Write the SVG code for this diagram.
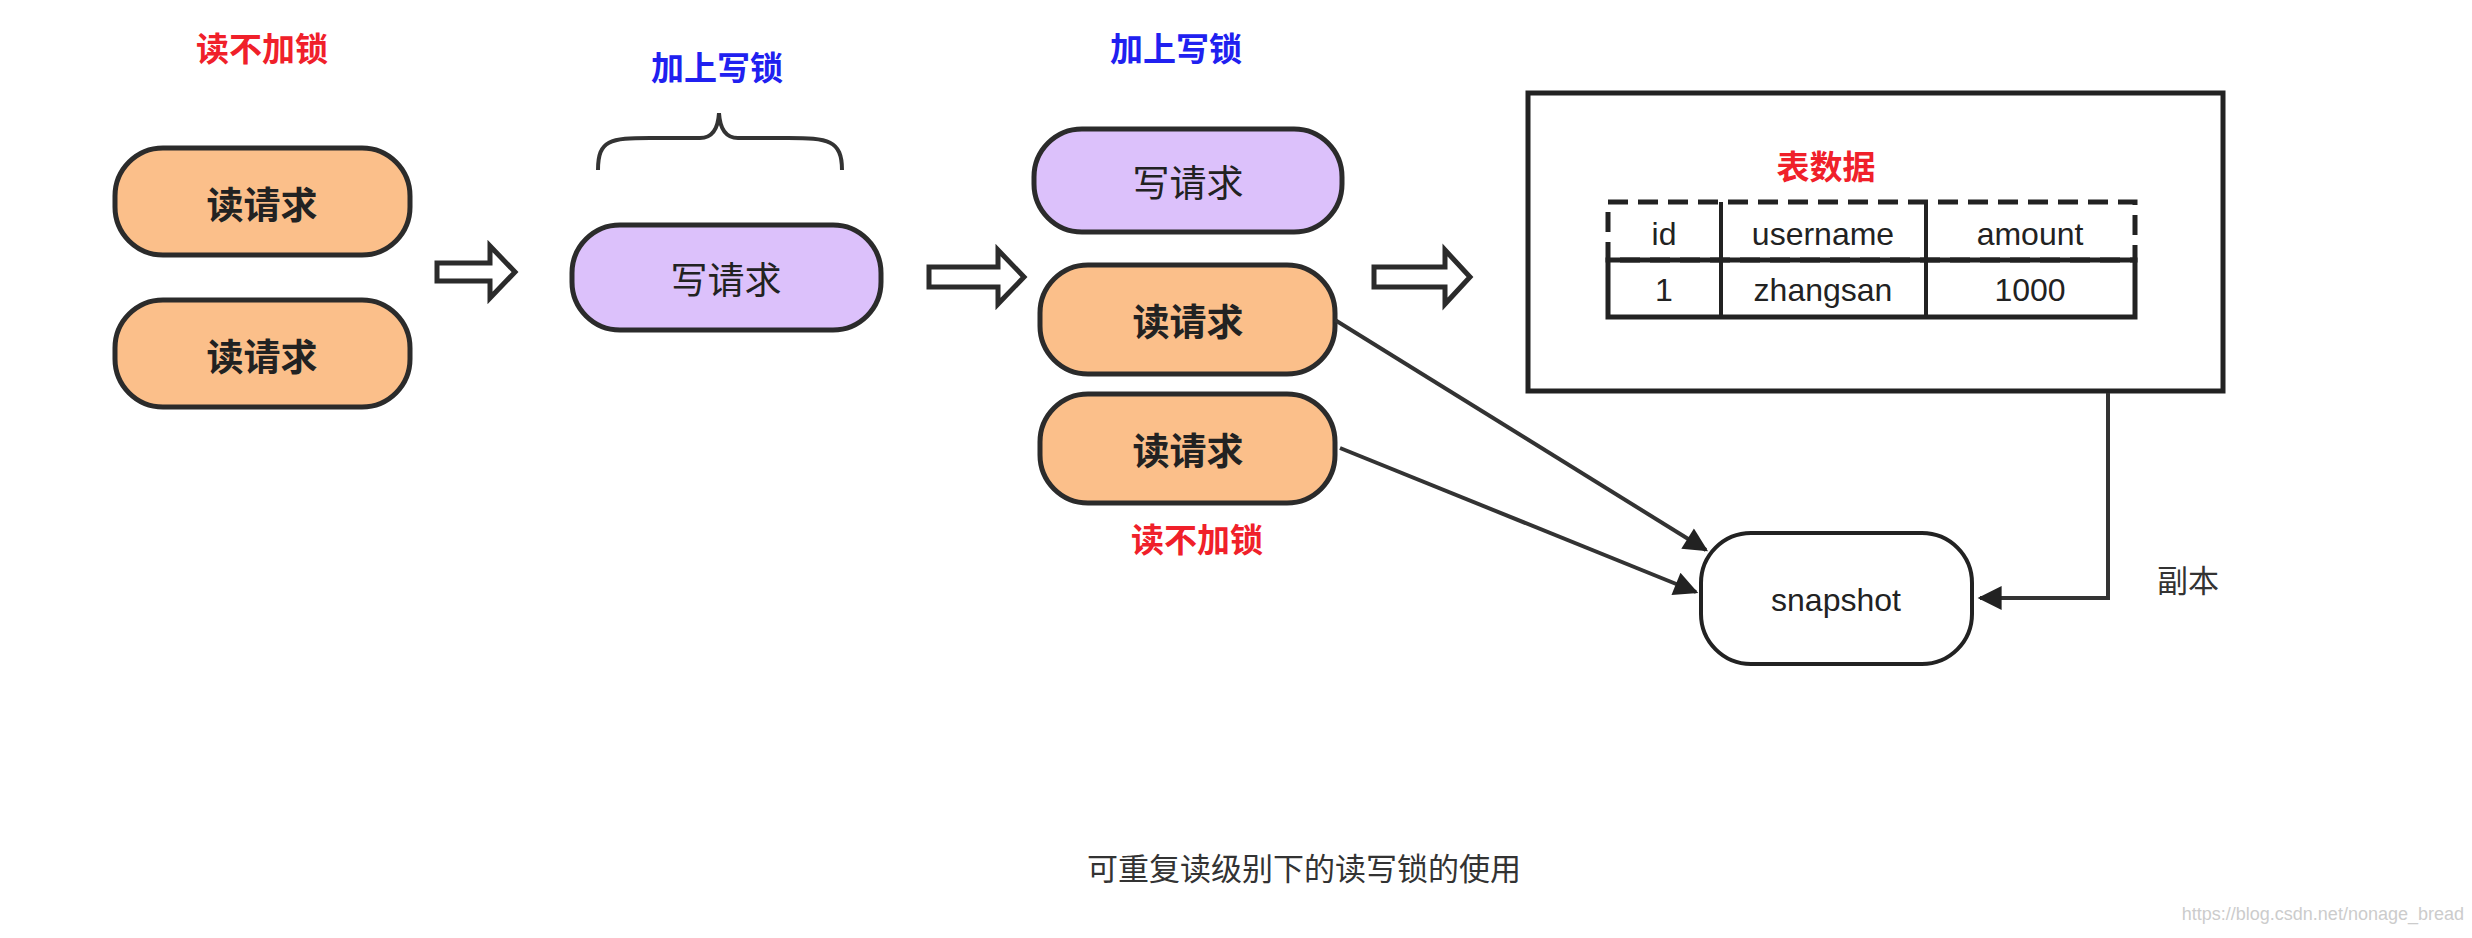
<svg xmlns="http://www.w3.org/2000/svg" width="2472" height="938" viewBox="0 0 2472 938">
<style>
text{font-family:"Noto Sans CJK SC","Liberation Sans",sans-serif;text-anchor:middle;dominant-baseline:central}
.rd{fill:#fbbf8a;stroke:#2b2b2b;stroke-width:5}
.wr{fill:#dcc1fb;stroke:#2b2b2b;stroke-width:5}
.nt{font-size:37px;font-weight:bold;fill:#222}
.red{font-size:33px;font-weight:bold;fill:#f0202a}
.blue{font-size:33px;font-weight:bold;fill:#2020f0}
.hol{fill:#fff;stroke:#2b2b2b;stroke-width:5;stroke-linejoin:miter}
.ln{stroke:#333;stroke-width:4;fill:none}
.tt{font-family:"Liberation Sans",sans-serif;font-size:32px;fill:#222}
</style>
<defs><marker id="ah" viewBox="0 0 10 10" refX="9" refY="5" markerWidth="7" markerHeight="6" orient="auto"><path d="M0,0L10,5L0,10z" fill="#222"/></marker></defs>
<text class="red" x="262" y="47">读不加锁</text>
<g id="r1"><rect class="rd" x="115" y="148" width="295" height="107" rx="48"/><text class="nt" x="262" y="203">读请求</text></g>
<g id="r2"><rect class="rd" x="115" y="300" width="295" height="107" rx="48"/><text class="nt" x="262" y="355">读请求</text></g>
<text class="blue" x="717" y="66">加上写锁</text>
<path d="M598,170 C598,140 610,138 650,138 L700,138 C712,138 718,130 719,113 C720,130 726,138 738,138 L788,138 C828,138 842,140 842,170" class="ln"/>
<g id="w1"><rect class="wr" x="572" y="225" width="309" height="105" rx="48"/><text class="nt" x="726" y="278" style="font-weight:normal">写请求</text></g>
<text class="blue" x="1176" y="47">加上写锁</text>
<g id="w2"><rect class="wr" x="1034" y="129" width="308" height="103" rx="48"/><text class="nt" x="1188" y="181" style="font-weight:normal">写请求</text></g>
<g id="r3"><rect class="rd" x="1040" y="265" width="295" height="109" rx="48"/><text class="nt" x="1188" y="320">读请求</text></g>
<g id="r4"><rect class="rd" x="1040" y="394" width="295" height="109" rx="48"/><text class="nt" x="1188" y="449">读请求</text></g>
<text class="red" x="1197" y="538">读不加锁</text>
<g id="table">
<rect x="1528" y="93" width="695" height="298" fill="#fff" stroke="#222" stroke-width="5"/>
<text class="red" x="1826" y="165">表数据</text>
<rect x="1608" y="202" width="527" height="58" fill="none" stroke="#222" stroke-width="5" stroke-dasharray="20,10"/>
<rect x="1608" y="260" width="527" height="57" fill="none" stroke="#222" stroke-width="5"/>
<path d="M1721,202V317M1926,202V317" stroke="#222" stroke-width="4"/>
<text class="tt" x="1664" y="234">id</text><text class="tt" x="1823" y="234">username</text><text class="tt" x="2030" y="234">amount</text>
<text class="tt" x="1664" y="290">1</text><text class="tt" x="1823" y="290">zhangsan</text><text class="tt" x="2030" y="290">1000</text>
</g>
<g id="snapshot"><rect x="1701" y="533" width="271" height="131" rx="50" fill="#fff" stroke="#222" stroke-width="4"/><text class="tt" x="1836" y="600">snapshot</text></g>
<g id="connectors">
<path class="hol" d="M437,263H490V246L515,272L490,298V281H437Z"/>
<path class="hol" d="M929,267H998V250L1024,277L998,304V287H929Z"/>
<path class="hol" d="M1374,267H1445V250L1470,277L1445,304V287H1374Z"/>
<path class="ln" d="M1335,320L1706,550" marker-end="url(#ah)"/>
<path class="ln" d="M1340,448L1696,592" marker-end="url(#ah)"/>
<path class="ln" d="M2108,393V598H1980" marker-end="url(#ah)"/>
</g>
<text x="2188" y="578" style="font-size:31px;fill:#333">副本</text>
<text x="1304" y="866" style="font-size:31px;fill:#333">可重复读级别下的读写锁的使用</text>
<text x="2464" y="914" style="font-family:'Liberation Sans',sans-serif;font-size:18px;fill:#ccc;text-anchor:end">https://blog.csdn.net/nonage_bread</text>
</svg>
